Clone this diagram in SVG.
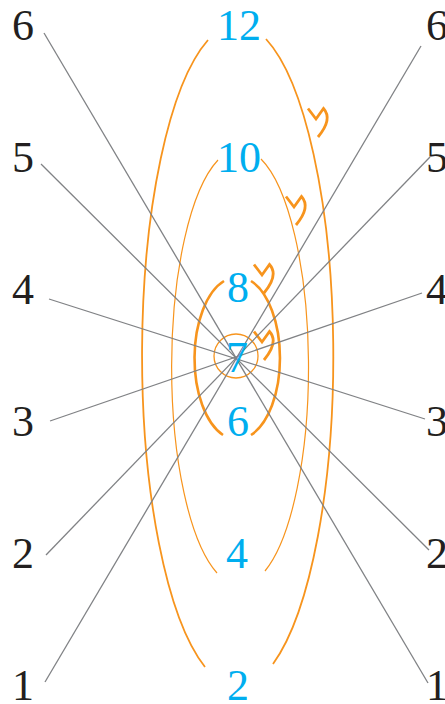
<svg xmlns="http://www.w3.org/2000/svg" width="445" height="704" viewBox="0 0 445 704">
<style>
.ln{stroke:#808285;stroke-width:1.3;fill:none}
.or{stroke:#F7941D;fill:none}
.blk{font-family:"Liberation Serif","Times New Roman",serif;font-size:44px;fill:#231F20}
.blu{font-family:"Liberation Serif","Times New Roman",serif;font-size:44px;fill:#00AEEF;text-anchor:middle}
</style>
<defs>
<path id="mk" d="M -8 -10.5 L 0 0 L 7.5 -10.5 Q 17 0 2 18" fill="none" stroke="#F7941D" stroke-width="2.8"/>
</defs>
<g id="orbits">
<g id="orbit12"><path class="or" stroke-width="1.8" d="M 208 40 A 96 332 0 0 0 205 667"/><path class="or" stroke-width="1.8" d="M 266 39 A 96 332 0 0 1 273 664"/></g>
<g id="orbit10"><path class="or" stroke-width="1.2" d="M 218 160 A 67.5 218 0 0 0 217 573"/><path class="or" stroke-width="1.2" d="M 261 159 A 67.5 218 0 0 1 265 571"/></g>
<g id="orbit8"><path class="or" stroke-width="2.6" d="M 224 281 A 42 81 0 0 0 223 435"/><path class="or" stroke-width="2.6" d="M 251 281 A 42 81 0 0 1 251 435"/></g>
<g id="orbit7"><circle class="or" stroke-width="1.3" cx="236" cy="356" r="22"/></g>
</g>
<g id="marks">
<use href="#mk" x="316" y="119"/>
<use href="#mk" x="294" y="207"/>
<use href="#mk" x="262" y="275"/>
<use href="#mk" x="262" y="342"/>
</g>
<g id="connectors">
<line class="ln" x1="44" y1="33" x2="428" y2="683"/>
<line class="ln" x1="421" y1="46" x2="45" y2="682"/>
<line class="ln" x1="41" y1="164" x2="429" y2="550"/>
<line class="ln" x1="430" y1="157" x2="46" y2="555"/>
<line class="ln" x1="49" y1="299" x2="425" y2="419"/>
<line class="ln" x1="422" y1="293" x2="50" y2="421"/>
</g>
<g id="left-labels" class="blk">
<text x="12" y="40">6</text>
<text x="12" y="172">5</text>
<text x="12" y="304">4</text>
<text x="12" y="436">3</text>
<text x="12" y="568">2</text>
<text x="12" y="700">1</text>
</g>
<g id="right-labels" class="blk">
<text x="426" y="40">6</text>
<text x="426" y="172">5</text>
<text x="426" y="304">4</text>
<text x="426" y="436">3</text>
<text x="426" y="568">2</text>
<text x="426" y="700">1</text>
</g>
<g id="center-labels" class="blu">
<text x="239" y="40">12</text>
<text x="239" y="172">10</text>
<text x="238" y="302">8</text>
<text x="237" y="372">7</text>
<text x="238" y="436">6</text>
<text x="237" y="568">4</text>
<text x="238" y="700">2</text>
</g>
</svg>
